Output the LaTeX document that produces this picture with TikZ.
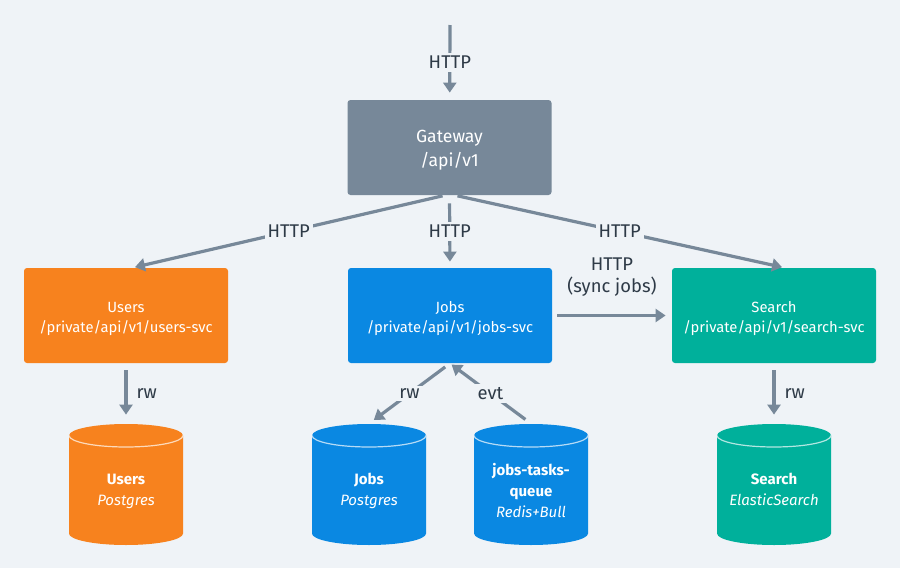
\documentclass[tikz,border=0pt]{standalone}
\usepackage{fontspec}
\setmainfont{Fira Sans}
\usetikzlibrary{arrows.meta, positioning}
\definecolor{bgGrey}{HTML}{EFF3F7}
\definecolor{gwSlate}{HTML}{778899}
\definecolor{usrOrange}{HTML}{F7821E}
\definecolor{jobBlue}{HTML}{0A88E2}
\definecolor{srchTeal}{HTML}{00B09B}
\definecolor{lblDark}{HTML}{2E3A47}

\begin{document}
\begin{tikzpicture}[x=0.5pt, y=0.5pt, >={Triangle[length=5pt, width=6.5pt]},
    svc/.style={rectangle, rounded corners=1.5pt, minimum width=102pt, minimum height=47.5pt, inner xsep=2pt, text=white, align=center,
        text height=16.5pt, text depth=0pt, font=\fontsize{7.4}{10}\selectfont},
    db/.style={rectangle, minimum width=57pt, minimum height=60.5pt, text=white, align=center,
        text height=20.7pt, text depth=0pt, font=\fontsize{7.5}{10.5}\selectfont,
        path picture={
            \fill[#1] ([yshift=-5.75pt]path picture bounding box.north west) -- ([yshift=5.75pt]path picture bounding box.south west)
                arc[start angle=180, end angle=360, x radius=28.5pt, y radius=5.75pt]
                -- ([yshift=-5.75pt]path picture bounding box.north east)
                arc[start angle=0, end angle=180, x radius=28.5pt, y radius=5.75pt] -- cycle;
            \draw[white!70!#1, line width=0.6pt] ([yshift=-5.75pt]path picture bounding box.north west)
                arc[start angle=180, end angle=360, x radius=28.5pt, y radius=5.75pt];}},
    link/.style={->, draw=gwSlate, line width=1.6pt},
    lbl/.style={fill=bgGrey, text=lblDark, inner sep=1.5pt, font=\fontsize{9.2}{11}\selectfont, align=center}]
        \fill[bgGrey] (0,0) rectangle (900,-568);
        \useasboundingbox (0,0) rectangle (900,-568);
        % services
        \node[svc, fill=gwSlate, text height=19.3pt, font=\fontsize{8.8}{12}\selectfont] (gateway) at (449.5,-147.5) {Gateway\\/api/v1};
        \node[svc, fill=usrOrange] (users) at (126,-315.5) {Users\\/private/api/v1/users-svc};
        \node[svc, fill=jobBlue] (jobs) at (450,-315.5) {Jobs\\/private/api/v1/jobs-svc};
        \node[svc, fill=srchTeal] (search) at (774,-315.5) {Search\\/private/api/v1/search-svc};
        % stores
        \node[db=usrOrange] (usersdb) at (126,-484.5) {\textbf{Users}\\\textit{Postgres}};
        \node[db=jobBlue] (jobsdb) at (369,-484.5) {\textbf{Jobs}\\\textit{Postgres}};
        \node[db=jobBlue, text height=32.9pt] (queue) at (531,-484.5) {\textbf{jobs-tasks-}\\\textbf{queue}\\\textit{Redis+Bull}};
        \node[db=srchTeal] (searchdb) at (774,-484.5) {\textbf{Search}\\\textit{ElasticSearch}};
        % connectors
        \coordinate (client) at (450,-25);
        \draw[link, shorten >=3.5pt] (client) -- node[lbl]{HTTP} (gateway);
        \draw[link, shorten <=1pt, shorten >=1pt] ([xshift=-2.5pt]gateway.south) -- node[lbl]{HTTP} ([xshift=3.5pt]users.north);
        \draw[link, shorten <=4pt, shorten >=3pt] (gateway.south) -- node[lbl]{HTTP} (jobs.north);
        \draw[link, shorten <=1pt, shorten >=1pt] ([xshift=3pt]gateway.south) -- node[lbl]{HTTP} ([xshift=5pt]search.north);
        \draw[link, shorten <=2.5pt, shorten >=3pt] (jobs) -- node[lbl, above=7pt]{HTTP\\(sync jobs)} (search);
        \draw[link, shorten <=3.5pt, shorten >=4.5pt] (users) -- node[lbl, right=3pt]{rw} (usersdb);
        \draw[link, shorten <=3pt, shorten >=3pt] (jobs.south) -- node[lbl]{rw} (jobsdb.north);
        \draw[link, shorten <=3.5pt, shorten >=1pt] (queue.north) -- node[lbl]{evt} (jobs.south);
        \draw[link, shorten <=3.5pt, shorten >=4.5pt] (search) -- node[lbl, right=3pt]{rw} (searchdb);
      \end{tikzpicture}
\end{document}
